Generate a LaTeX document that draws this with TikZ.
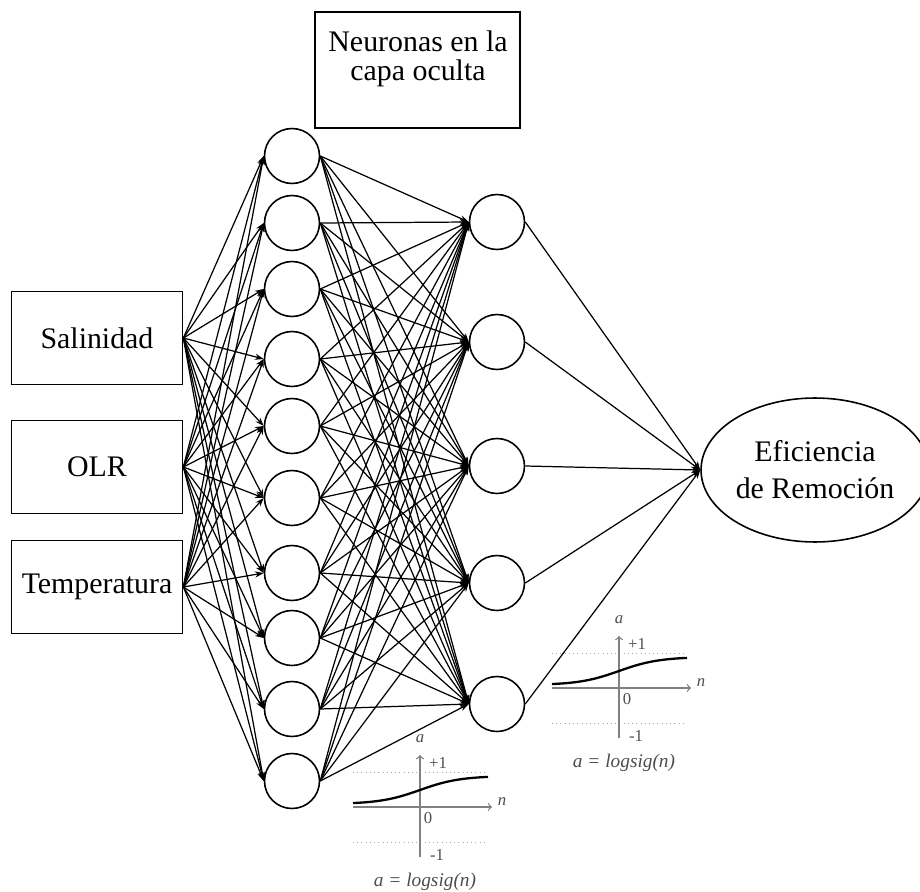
\documentclass[tikz,border=0pt]{standalone}
\usepackage{fontspec}
\setmainfont{Liberation Serif}
\usetikzlibrary{shapes.geometric, arrows.meta}

\tikzset{
  every neuron/.style={
    circle,
    draw,
    line width=0.9pt,
    minimum size=1.1cm,
    inner sep=0pt
  },
  input box/.style={
    draw,
    line width=1pt,
    inner sep=2pt,
    minimum width=3.42cm,
    minimum height=1.86cm
  },
  output neuron/.style={
    ellipse,
    draw,
    line width=0.9pt,
    inner sep=0pt,
    align=center,
    minimum width=4.56cm,
    minimum height=2.88cm
  },
  link/.style={->, line width=0.7pt},
  plot label/.style={
    inner sep=0pt,
    text=black!70,
    font=\fontsize{9.5}{11}\selectfont
  },
  logsig/.pic={
    % reference lines at +1 and -1
    \draw [dotted, gray!70] (-67,-35) -- (67,-35);
    \draw [dotted, gray!70] (-67,35) -- (67,35);
    % axes
    \draw [-to, gray, line width=0.7pt] (0,50) -- (0,-52);
    \draw [-to, gray, line width=0.7pt] (-67,0) -- (72,0);
    % sigmoid curve
    \draw [line width=1.3pt] plot [domain=-67:68, samples=40, smooth]
      (\x, {-3-28/(1+exp(-\x/20))});
    \node [plot label] (-a) at (0,-68) {\textit{a}};
    \node [plot label] (-up) at (18,-44) {+1};
    \node [plot label] (-n) at (82,-5) {\textit{n}};
    \node [plot label] (-zero) at (8,11) {0};
    \node [plot label] (-down) at (17,48) {-1};
    \node [plot label, font=\fontsize{11}{13}\selectfont\itshape] (-eq)
      at (5,75) {a = logsig(n)};
  }
}

\begin{document}
\begin{tikzpicture}[x=0.02cm, y=-0.02cm, >={Stealth[length=5pt, width=3.5pt]},
    font=\fontsize{17}{21}\selectfont]
  \useasboundingbox (0,0) rectangle (920,892);

  \foreach \l/\y [count=\i] in {Salinidad/338, OLR/467, Temperatura/587}
    \node [input box] (input-\i) at (97,\y) {\l};

  \foreach \y [count=\i] in {156,223,289,359,426,498,573,638,709,781}
    \node [every neuron] (hidden1-\i) at (292,\y) {};

  \foreach \y [count=\i] in {222,342,466,583,704}
    \node [every neuron] (hidden2-\i) at (497,\y) {};

  \node [output neuron] (output) at (815,470) {Eficiencia\\de Remoción};

  \node [draw, line width=1pt, minimum width=4.1cm, minimum height=2.32cm]
    (title-box) at (417.5,70) {};
  \node [align=center, font=\fontsize{17}{16.5}\selectfont]
    (title) at (418,59) {Neuronas en la\\capa oculta};

  \foreach \i in {1,...,3}
    \foreach \j in {1,...,10}
      \draw [link] (input-\i.east) -- (hidden1-\j.west);

  \foreach \i in {1,...,10}
    \foreach \j in {1,...,5}
      \draw [link] (hidden1-\i.east) -- (hidden2-\j.west);

  \foreach \j in {1,...,5}
    \draw [link] (hidden2-\j.east) -- (output.west);

  \pic (plot-a) at (420,807) {logsig};
  \pic (plot-b) at (619,688) {logsig};

\end{tikzpicture}
\end{document}
